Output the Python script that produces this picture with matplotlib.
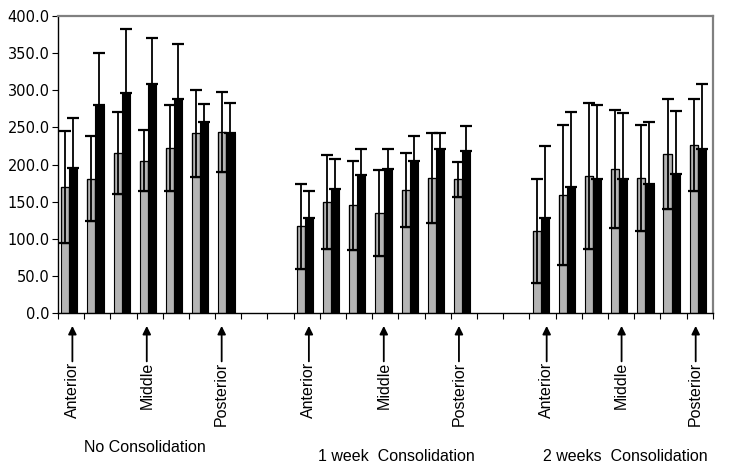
import matplotlib
matplotlib.use("Agg")
import matplotlib.pyplot as plt
import matplotlib.transforms as mtransforms
import numpy as np

# category slots: 7 bars, 2 empty, 7 bars, 2 empty, 7 bars
gray_pos = [0, 1, 2, 3, 4, 5, 6, 9, 10, 11, 12, 13, 14, 15, 18, 19, 20, 21, 22, 23, 24]

gray_mean = [170, 181, 216, 205, 222, 242, 244,
             117, 150, 145, 135, 166, 182, 180,
             111, 159, 185, 194, 182, 214, 226]
gray_sd = [75, 57, 55, 41, 58, 59, 54,
           57, 63, 60, 58, 50, 60, 24,
           70, 94, 98, 80, 72, 74, 62]

black_mean = [195, 280, 297, 309, 289, 258, 243,
              128, 167, 186, 194, 205, 221, 218,
              128, 170, 180, 181, 174, 188, 221]
black_sd = [68, 70, 86, 61, 73, 23, 40,
            37, 41, 35, 27, 33, 22, 34,
            97, 101, 100, 88, 83, 84, 87]

region_labels = ["Anterior", "Middle", "Posterior"] * 3
arrow_x = [0.55, 3.39, 6.25, 9.58, 12.44, 15.31, 18.66, 21.52, 24.35]

group_labels = ["No Consolidation", "1 week  Consolidation", "2 weeks  Consolidation"]
group_x = [3.32, 12.93, 21.68]
group_y = [0.053, 0.034, 0.034]

yticks = [0, 50, 100, 150, 200, 250, 300, 350, 400]

fig = plt.figure(figsize=(7.34, 4.73), dpi=100)
ax = fig.add_axes([0.079, 0.338, 0.892, 0.628])

w = 0.31
xg = np.array(gray_pos) + 0.12 + w / 2
xb = np.array(gray_pos) + 0.12 + 1.5 * w
gm = np.array(gray_mean)
gs = np.array(gray_sd)
bm = np.array(black_mean)
bs = np.array(black_sd)

ax.bar(xg, gm, width=w, color="#b4b4b4", edgecolor="black", linewidth=0.8, zorder=2)
# lower error drawn as a box inside the gray bar
ax.bar(xg, gs, bottom=gm - gs, width=w, fill=False, edgecolor="black", linewidth=0.9, zorder=3)
ax.errorbar(xg, gm, yerr=[gs, gs], fmt="none", ecolor="black", elinewidth=1.3,
            capsize=4.5, capthick=1.6, zorder=4)

ax.bar(xb, bm, width=w, color="black", edgecolor="black", linewidth=0.8, zorder=2)
ax.errorbar(xb, bm, yerr=[np.zeros_like(bs), bs], fmt="none", ecolor="black",
            elinewidth=1.3, capsize=4.5, capthick=1.6, zorder=4)

ax.set_xlim(0, 25)
ax.set_ylim(0, 400)
ax.set_xticks(np.arange(0, 26))
ax.set_xticklabels([])
ax.set_yticks(yticks)
ax.set_yticklabels([f"{v:.1f}" for v in yticks], fontsize=10.5, fontfamily="DejaVu Sans")
ax.tick_params(axis="x", direction="out", length=4, width=0.8)
ax.tick_params(axis="y", direction="out", length=4, width=0.8, pad=2)

for side in ("left", "bottom"):
    ax.spines[side].set_color("black")
    ax.spines[side].set_linewidth(1.0)
for side in ("top", "right"):
    ax.spines[side].set_color("#808080")
    ax.spines[side].set_linewidth(1.6)

# arrows and region labels below the axis
trans = mtransforms.blended_transform_factory(ax.transData, fig.transFigure)
for x, lab in zip(arrow_x, region_labels):
    ax.annotate("", xy=(x, 0.311), xytext=(x, 0.236),
                xycoords=trans, textcoords=trans,
                arrowprops=dict(arrowstyle="-|>", color="black", lw=1.3,
                                mutation_scale=12, shrinkA=0, shrinkB=0),
                annotation_clip=False)
    ax.text(x, 0.235, lab, rotation=90, ha="center", va="top", transform=trans,
            fontsize=11.5, fontfamily="Liberation Sans")

for x, y, lab in zip(group_x, group_y, group_labels):
    ax.text(x, y, lab, ha="center", va="center", transform=trans,
            fontsize=11.5, fontfamily="Liberation Sans")

fig.savefig("out.png", dpi=100)
